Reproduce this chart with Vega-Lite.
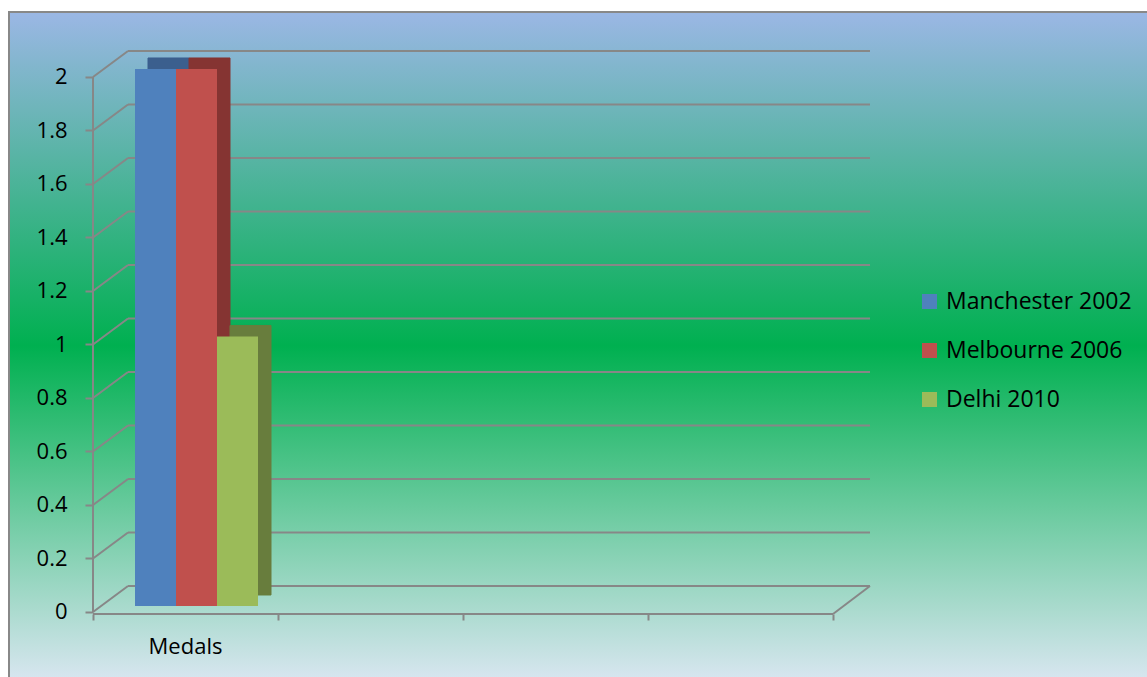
{
  "$schema": "https://vega.github.io/schema/vega-lite/v6.json",
  "width": 1141,
  "height": 668,
  "autosize": {"type": "none"},
  "padding": {"left": 9, "top": 12, "right": 0, "bottom": 0},
  "config": {
    "view": {
      "fill": {"gradient": "linear", "x1": 0, "y1": 0, "x2": 0, "y2": 1,
        "stops": [
          {"offset": 0, "color": "#9BB7E5"},
          {"offset": 0.5, "color": "#00B050"},
          {"offset": 1, "color": "#D8E6F0"}
        ]},
      "stroke": "#888888",
      "strokeWidth": 2
    },
    "font": "Open Sans"
  },
  "datasets": {
    "medals": [
      {"category": "Medals", "series": "Manchester 2002", "medals": 2},
      {"category": "Medals", "series": "Melbourne 2006", "medals": 2},
      {"category": "Medals", "series": "Delhi 2010", "medals": 1}
    ],
    "ticks": [
      {"v": 0}, {"v": 0.2}, {"v": 0.4}, {"v": 0.6}, {"v": 0.8}, {"v": 1},
      {"v": 1.2}, {"v": 1.4}, {"v": 1.6}, {"v": 1.8}, {"v": 2}
    ]
  },
  "layer": [
    {
      "layer": [
        {
          "data": {"name": "ticks"},
          "mark": {"type": "rule", "color": "#878787", "strokeWidth": 2, "yOffset": -26},
          "encoding": {
            "x": {"datum": 0.18919, "type": "quantitative", "scale": {"domain": [-0.45405, 5.71351], "zero": false, "nice": false}},
            "x2": {"datum": 4.2},
            "y": {"field": "v", "type": "quantitative",
              "scale": {"domain": [-0.25421, 2.24299], "zero": false, "nice": false},
              "axis": {"values": [0, 0.2, 0.4, 0.6, 0.8, 1, 1.2, 1.4, 1.6, 1.8, 2], "format": "~g",
                "offset": -84, "domain": false, "grid": false, "ticks": true, "tickSize": 8, "tickWidth": 2,
                "tickColor": "#878787", "labelPadding": 18, "labelFont": "Open Sans", "labelFontSize": 22,
                "labelColor": "#000000", "title": null, "zindex": 2}}
          }
        },
        {
          "data": {"name": "ticks"},
          "mark": {"type": "rule", "color": "#878787", "strokeWidth": 2, "y2Offset": -26},
          "encoding": {
            "x": {"datum": 0, "type": "quantitative", "scale": {"domain": [-0.45405, 5.71351], "zero": false, "nice": false}},
            "x2": {"datum": 0.18919},
            "y": {"field": "v", "type": "quantitative", "scale": {"domain": [-0.25421, 2.24299], "zero": false, "nice": false}},
            "y2": {"field": "v"}
          }
        },
        {
          "data": {"values": [{}]},
          "mark": {"type": "rule", "color": "#878787", "strokeWidth": 2},
          "encoding": {
            "x": {"datum": 0, "type": "quantitative", "scale": {"domain": [-0.45405, 5.71351], "zero": false, "nice": false}},
            "y": {"datum": 0, "type": "quantitative", "scale": {"domain": [-0.25421, 2.24299], "zero": false, "nice": false}},
            "y2": {"datum": 2}
          }
        },
        {
          "data": {"values": [{}]},
          "mark": {"type": "rule", "color": "#878787", "strokeWidth": 2, "yOffset": 2},
          "encoding": {
            "x": {"datum": 0, "type": "quantitative", "scale": {"domain": [-0.45405, 5.71351], "zero": false, "nice": false},
              "axis": {"values": [0, 1, 2, 3, 4], "labels": false, "domain": false, "grid": false, "ticks": true,
                "tickSize": 6, "tickWidth": 2, "tickColor": "#878787", "offset": -66, "title": null, "zindex": 2}},
            "x2": {"datum": 4},
            "y": {"datum": 0, "type": "quantitative", "scale": {"domain": [-0.25421, 2.24299], "zero": false, "nice": false}}
          }
        },
        {
          "data": {"values": [{}]},
          "mark": {"type": "rule", "color": "#878787", "strokeWidth": 2, "yOffset": 2, "y2Offset": -26},
          "encoding": {
            "x": {"datum": 4, "type": "quantitative", "scale": {"domain": [-0.45405, 5.71351], "zero": false, "nice": false}},
            "x2": {"datum": 4.2},
            "y": {"datum": 0, "type": "quantitative", "scale": {"domain": [-0.25421, 2.24299], "zero": false, "nice": false}},
            "y2": {"datum": 0}
          }
        },
        {
          "data": {"values": [{"category": "Medals"}]},
          "mark": {"type": "text", "fontSize": 22, "font": "Open Sans", "color": "#000000", "yOffset": 35},
          "encoding": {
            "x": {"datum": 0.5, "type": "quantitative", "scale": {"domain": [-0.45405, 5.71351], "zero": false, "nice": false}},
            "y": {"datum": 0, "type": "quantitative", "scale": {"domain": [-0.25421, 2.24299], "zero": false, "nice": false}},
            "text": {"field": "category"}
          }
        }
      ]
    },
    {
      "data": {"name": "medals"},
      "mark": {"type": "bar", "xOffset": 13, "yOffset": -19, "y2Offset": -17},
      "encoding": {
        "x": {"field": "series", "type": "nominal",
          "scale": {"domain": ["Manchester 2002", "Melbourne 2006", "Delhi 2010"], "range": [126, 249], "paddingInner": 0, "paddingOuter": 0},
          "axis": null},
        "y": {"field": "medals", "type": "quantitative", "scale": {"domain": [-0.25421, 2.24299], "zero": false, "nice": false}},
        "y2": {"datum": 0},
        "stroke": {"field": "series", "type": "nominal",
          "scale": {"domain": ["Manchester 2002", "Melbourne 2006", "Delhi 2010"], "range": ["#3B5F8E", "#853432", "#687D3D"]},
          "legend": null},
        "fill": {"field": "series", "type": "nominal",
          "scale": {"domain": ["Manchester 2002", "Melbourne 2006", "Delhi 2010"], "range": ["#3B5F8E", "#853432", "#687D3D"]},
          "legend": null}
      }
    },
    {
      "data": {"name": "medals"},
      "mark": {"type": "bar", "yOffset": -8, "y2Offset": -6},
      "encoding": {
        "x": {"field": "series", "type": "nominal",
          "scale": {"domain": ["Manchester 2002", "Melbourne 2006", "Delhi 2010"], "range": [126, 249], "paddingInner": 0, "paddingOuter": 0},
          "axis": null},
        "y": {"field": "medals", "type": "quantitative", "scale": {"domain": [-0.25421, 2.24299], "zero": false, "nice": false}},
        "y2": {"datum": 0},
        "color": {"field": "series", "type": "nominal",
          "scale": {"domain": ["Manchester 2002", "Melbourne 2006", "Delhi 2010"], "range": ["#4F81BD", "#C0504D", "#9BBB59"]},
          "legend": {"orient": "none", "legendX": 909, "legendY": 278, "title": null, "symbolType": "square",
            "symbolSize": 225, "symbolStrokeWidth": 0, "labelFont": "Open Sans", "labelFontSize": 23,
            "labelColor": "#000000", "labelOffset": 5, "labelLimit": 400, "rowPadding": 25, "padding": 0, "zindex": 2}}
      }
    }
  ],
  "resolve": {"scale": {"x": "independent", "fill": "independent", "color": "independent", "stroke": "independent"}}
}
